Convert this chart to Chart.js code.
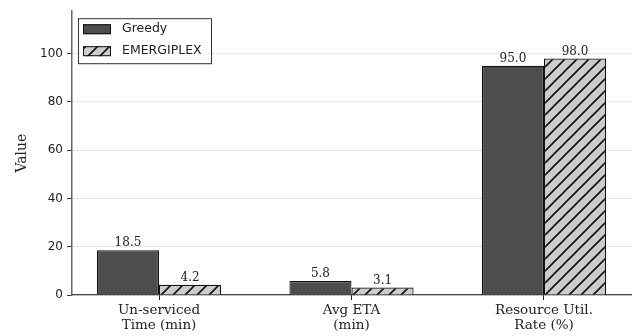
<!DOCTYPE html>
<html>
<head>
<meta charset="utf-8">
<script src="https://cdn.jsdelivr.net/npm/chart.js@4.4.1/dist/chart.umd.min.js"></script>
<style>
  html, body { margin: 0; padding: 0; background: #fff; }
  #wrap { width: 636px; height: 336px; }
</style>
</head>
<body>
<div id="wrap"><canvas id="bars"></canvas></div>
<script>
var categories = [["Un-serviced", "Time (min)"], ["Avg ETA", "(min)"], ["Resource Util.", "Rate (%)"]];
var greedyValues = [18.5, 5.8, 95.0];
var emergiplexValues = [4.2, 3.1, 98.0];
var yTicks = [0, 20, 40, 60, 80, 100];
var seriesNames = ["Greedy", "EMERGIPLEX"];

// hatch for the second series, like matplotlib '//'
function makeHatch() {
  var s = 12;
  var c = document.createElement('canvas');
  c.width = s; c.height = s;
  var g = c.getContext('2d');
  g.fillStyle = '#cccccc';
  g.fillRect(0, 0, s, s);
  g.strokeStyle = '#111';
  g.lineWidth = 1.6;
  g.beginPath();
  g.moveTo(-1, s + 1); g.lineTo(s + 1, -1);
  g.moveTo(-2, 2); g.lineTo(2, -2);
  g.moveTo(s - 2, s + 2); g.lineTo(s + 2, s - 2);
  g.stroke();
  return g.createPattern(c, 'repeat');
}
var hatch = makeHatch();

function pts(vals) {
  return vals.map(function (v, i) { return { x: i, y: v }; });
}

var valueLabels = {
  id: 'valueLabels',
  afterDatasetsDraw: function (chart) {
    var ctx = chart.ctx;
    ctx.save();
    ctx.font = '12px "DejaVu Serif"';
    ctx.fillStyle = '#222';
    ctx.textAlign = 'center';
    ctx.textBaseline = 'alphabetic';
    chart.data.datasets.forEach(function (ds, di) {
      chart.getDatasetMeta(di).data.forEach(function (el, i) {
        ctx.fillText(ds.data[i].y.toFixed(1), el.x, el.y - 4);
      });
    });
    ctx.restore();
  }
};

var boxLegend = {
  id: 'boxLegend',
  afterDraw: function (chart) {
    var ctx = chart.ctx;
    var a = chart.chartArea;
    var x = a.left + 6, y = a.top + 7;
    ctx.save();
    ctx.fillStyle = 'rgba(255,255,255,0.9)';
    ctx.strokeStyle = '#333';
    ctx.lineWidth = 1;
    ctx.fillRect(x, y, 133, 45);
    ctx.strokeRect(x + 0.5, y + 0.5, 133, 45);
    ctx.font = '12.5px "DejaVu Sans"';
    ctx.textBaseline = 'middle';
    chart.data.datasets.forEach(function (ds, i) {
      var ry = y + 6 + i * 22;
      ctx.fillStyle = ds.backgroundColor;
      ctx.fillRect(x + 5, ry, 28, 10);
      ctx.strokeStyle = '#111';
      ctx.strokeRect(x + 5.5, ry + 0.5, 27, 9);
      ctx.fillStyle = '#222';
      ctx.fillText(ds.label, x + 44, ry + 5);
    });
    ctx.restore();
  }
};

new Chart(document.getElementById('bars'), {
  type: 'bar',
  data: {
    datasets: [{
      label: seriesNames[0],
      data: pts(greedyValues),
      backgroundColor: '#4d4d4d',
      borderColor: '#111',
      borderWidth: 1.2
    }, {
      label: seriesNames[1],
      data: pts(emergiplexValues),
      backgroundColor: hatch,
      borderColor: '#111',
      borderWidth: 1.2
    }]
  },
  plugins: [valueLabels, boxLegend],
  options: {
    responsive: true,
    maintainAspectRatio: false,
    animation: false,
    categoryPercentage: 0.645,
    barPercentage: 1.0,
    layout: { padding: { top: 10, right: 5, left: 0, bottom: 0 } },
    plugins: {
      legend: { display: false },
      tooltip: { enabled: false }
    },
    scales: {
      x: {
        type: 'linear',
        offset: false,
        min: -0.452,
        max: 2.452,
        afterBuildTicks: function (scale) {
          scale.ticks = categories.map(function (c, i) { return { value: i }; });
        },
        afterFit: function (scale) { scale.height = 41; },
        ticks: {
          autoSkip: false,
          maxRotation: 0,
          padding: 3,
          color: '#222',
          font: { family: 'DejaVu Serif', size: 13.5, lineHeight: 1.1 },
          callback: function (v) { return categories[v]; }
        },
        grid: { offset: false, drawOnChartArea: false, drawTicks: true, tickLength: 5, tickColor: '#222', color: '#222' },
        border: { display: true, color: '#444', width: 1.2 }
      },
      y: {
        min: 0,
        max: 117.6,
        afterBuildTicks: function (scale) {
          scale.ticks = yTicks.map(function (v) { return { value: v }; });
        },
        afterFit: function (scale) { scale.width = 72; },
        title: {
          display: true,
          text: 'Value',
          color: '#222',
          font: { family: 'DejaVu Serif', size: 14 },
          padding: { top: 14, bottom: 0 }
        },
        ticks: {
          padding: 4,
          color: '#222',
          font: { family: 'DejaVu Sans', size: 12 }
        },
        grid: { color: '#cfcfcf', lineWidth: 0.9, tickLength: 5, tickColor: '#222', tickBorderDash: [] },
        border: { display: true, color: '#666', width: 1.5, dash: [2, 2] }
      }
    }
  }
});
</script>
</body>
</html>
